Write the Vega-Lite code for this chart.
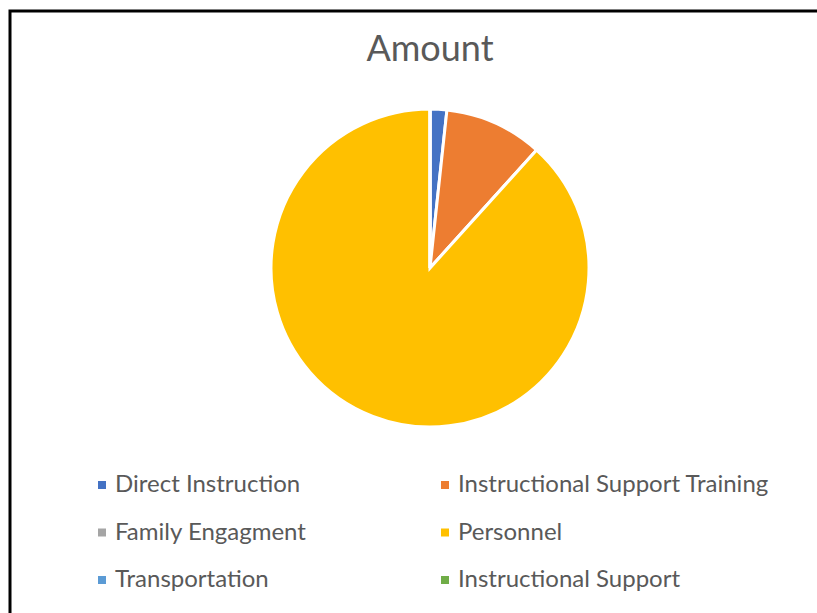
{
  "$schema": "https://vega.github.io/schema/vega-lite/v6.json",
  "autosize": "none",
  "width": 774,
  "height": 376,
  "padding": {"left": 43, "top": 80, "right": 0, "bottom": 157},
  "background": "white",
  "title": {"text": "Amount", "font": "Lato", "fontSize": 36, "fontWeight": "normal", "color": "#595959", "anchor": "middle", "offset": -59},
  "config": {"view": {"stroke": null}},
  "layer": [
    {
      "data": {"values": [{}]},
      "mark": {"type": "rect", "fill": "transparent", "stroke": "black", "strokeWidth": 3},
      "encoding": {"x": {"value": -33}, "y": {"value": -69}, "x2": {"value": 800}, "y2": {"value": 600}}
    },
    {
      "data": {"values": [
        {"category": "Direct Instruction", "amount": 1.7, "rank": 1},
        {"category": "Instructional Support Training", "amount": 10.0, "rank": 2},
        {"category": "Family Engagment", "amount": 0, "rank": 3},
        {"category": "Personnel", "amount": 88.3, "rank": 4},
        {"category": "Transportation", "amount": 0, "rank": 5},
        {"category": "Instructional Support", "amount": 0, "rank": 6}
      ]},
      "mark": {"type": "arc", "radius": 159, "stroke": "white", "strokeWidth": 3},
      "encoding": {
        "theta": {"field": "amount", "type": "quantitative", "stack": true},
        "order": {"field": "rank", "type": "quantitative"},
        "color": {
          "field": "category",
          "type": "nominal",
          "scale": {
            "domain": ["Direct Instruction", "Instructional Support Training", "Family Engagment", "Personnel", "Transportation", "Instructional Support"],
            "range": ["#4472C4", "#ED7D31", "#A5A5A5", "#FFC000", "#5B9BD5", "#70AD47"]
          },
          "legend": {
            "orient": "none",
            "legendX": 47,
            "legendY": 393,
            "direction": "horizontal",
            "columns": 2,
            "columnPadding": 126,
            "rowPadding": 23.5,
            "title": null,
            "symbolType": "square",
            "symbolSize": 64,
            "symbolStrokeWidth": 0,
            "labelFont": "Lato",
            "labelFontSize": 24,
            "labelColor": "#595959",
            "labelOffset": 1,
            "labelLimit": 400
          }
        }
      }
    }
  ]
}
